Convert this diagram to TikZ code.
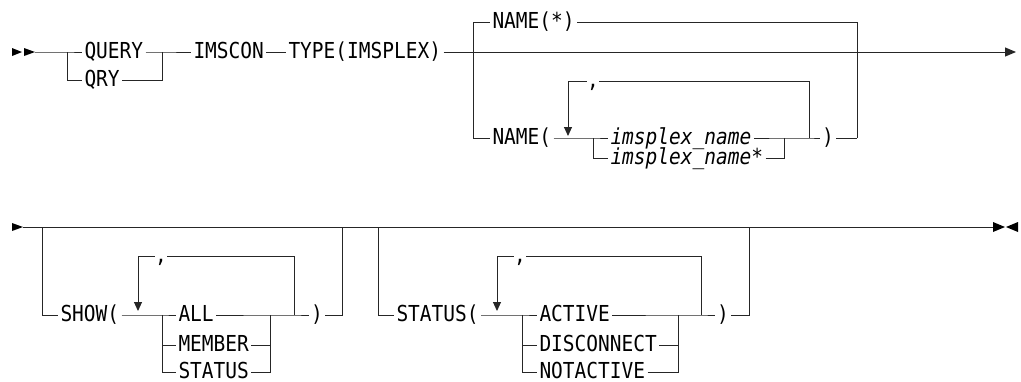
\documentclass[tikz,border=0pt]{standalone}
\usepackage{fontspec}
\setmainfont{DejaVu Sans Mono}[FakeStretch=0.886]
\usetikzlibrary{arrows.meta}

\begin{document}
\begin{tikzpicture}[
    x=1pt, y=-1pt,
    line width=1pt,
    color=black!85, % Set line color
    kw/.style={anchor=west, inner xsep=2pt, inner ysep=0pt, text height=12pt, text depth=0pt,
               text=black, font=\fontsize{22}{24}\selectfont}, % Keyword text
    var/.style={kw, font=\fontsize{22}{24}\selectfont\itshape}, % Variable text
    sep/.style={kw, anchor=center, inner xsep=0pt}, % Repeat separator
    par/.style={kw, anchor=center}, % Closing parenthesis
    rep/.style={-{Triangle[width=8pt,length=9pt]}}, % Repeat arrow
    tip/.style={fill=black} % Start and end markers
]
    \useasboundingbox (0,0) rectangle (1021,381);

    % --- FIRST LINE ---

    % Start marker
    \fill[tip] (12,48) -- (22,52) -- (12,56) -- cycle;
    \fill[tip] (24,48) -- (35,52) -- (24,56) -- cycle;

    % Coordinates
    \coordinate (S1) at (35,52);    % Start of line
    \coordinate (QL) at (67,52);    % Choice left
    \coordinate (QLb) at (67,80);
    \coordinate (QR) at (162,52);   % Choice right
    \coordinate (QRb) at (162,80);
    \coordinate (E1) at (1016,52);  % End of line

    % Keywords
    \node[kw] (query) at (82,52) {QUERY};
    \node[kw] (qry) at (82,80) {QRY};
    \node[kw] (imscon) at (191,52) {IMSCON};
    \node[kw] (type) at (286,52) {TYPE(IMSPLEX)};

    % Edges
    \draw (S1) -- (QL) -- (query.west);
    \draw (QL) -- (QLb) -- (qry.west);
    \draw (query.east) -- (QR) -- (imscon.west);
    \draw (qry.east) -- (QRb) -- (QR);
    \draw (imscon.east) -- (type.west);
    \draw[-{Triangle[width=9pt,length=11pt]}] (type.east) -- (E1);

    % NAME branch
    \coordinate (NL) at (473,52);
    \coordinate (NLt) at (473,22);
    \coordinate (NLb) at (473,138);
    \coordinate (NR) at (857,52);
    \coordinate (NRt) at (857,22);
    \coordinate (NRb) at (857,138);

    \node[kw] (nameall) at (490,22) {NAME(*)};
    \node[kw] (name) at (490,138) {NAME(};

    \draw (NLt) -- (NLb);
    \draw (NLt) -- (nameall.west);
    \draw (nameall.east) -- (NRt) -- (NRb);
    \draw (NLb) -- (name.west);

    % Repeat loop
    \coordinate (RL) at (568,81);
    \coordinate (RLa) at (568,136);
    \coordinate (RR) at (809,81);
    \coordinate (RRb) at (809,138);
    \node[sep] (comma1) at (593,81) {,};

    \draw[rep] (comma1.west) -- (RL) -- (RLa);
    \draw (comma1.east) -- (RR) -- (RRb);

    % Choice of names
    \coordinate (CL) at (593,138);
    \coordinate (CLb) at (593,158);
    \coordinate (CR) at (784,138);
    \coordinate (CRb) at (784,158);

    \node[var] (plex) at (608,138) {imsplex\_name};
    \node[var] (plexs) at (608,158) {imsplex\_name*};
    \node[par] (close1) at (828,138) {)};

    \draw (name.east) -- (CL) -- (plex.west);
    \draw (CL) -- (CLb) -- (plexs.west);
    \draw (plex.east) -- (CR) -- (RRb) -- (close1.west);
    \draw (plexs.east) -- (CRb) -- (CR);
    \draw (close1.east) -- (NRb);


    % --- SECOND LINE ---

    % Start and end markers
    \fill[tip] (12,223) -- (23,227) -- (12,231) -- cycle;
    \fill[tip] (993,222) -- (1005,227) -- (993,232) -- cycle;
    \fill[tip] (1018,222) -- (1006,227) -- (1018,232) -- cycle;

    \coordinate (S2) at (23,227);
    \coordinate (E2) at (993,227);
    \draw (S2) -- (E2);

    % SHOW branch
    \coordinate (BL) at (42,227);
    \coordinate (BLb) at (42,315);
    \coordinate (BR) at (342,227);
    \coordinate (BRb) at (342,315);

    \node[kw] (show) at (58,315) {SHOW(};
    \draw (BL) -- (BLb) -- (show.west);

    \coordinate (PL) at (138,256);
    \coordinate (PLa) at (138,311);
    \coordinate (PR) at (294,256);
    \coordinate (PRb) at (294,315);
    \node[sep] (comma2) at (161,256) {,};
    \draw[rep] (comma2.west) -- (PL) -- (PLa);
    \draw (comma2.east) -- (PR) -- (PRb);

    \coordinate (SL) at (162,315);
    \coordinate (SLb) at (162,372);
    \coordinate (SR) at (270,315);
    \coordinate (SRb) at (270,372);

    \node[kw] (all) at (176,315) {ALL};
    \node[kw] (member) at (176,345) {MEMBER};
    \node[kw] (status) at (176,372) {STATUS};
    \node[par] (close2) at (317,315) {)};

    \draw (show.east) -- (SL) -- (all.west);
    \draw (SL) -- (SLb) -- (status.west);
    \draw (SL |- member) -- (member.west);
    \draw (all.east) -- (SR) -- (PRb) -- (close2.west);
    \draw (member.east) -- (SR |- member);
    \draw (status.east) -- (SRb) -- (SR);
    \draw (close2.east) -- (BRb) -- (BR);

    % STATUS branch
    \coordinate (TL) at (378,227);
    \coordinate (TLb) at (378,315);
    \coordinate (TR) at (749,227);
    \coordinate (TRb) at (749,315);

    \node[kw] (stat) at (394,315) {STATUS(};
    \draw (TL) -- (TLb) -- (stat.west);

    \coordinate (UL) at (497,256);
    \coordinate (ULa) at (497,311);
    \coordinate (UR) at (701,256);
    \coordinate (URb) at (701,315);
    \node[sep] (comma3) at (520,256) {,};
    \draw[rep] (comma3.west) -- (UL) -- (ULa);
    \draw (comma3.east) -- (UR) -- (URb);

    \coordinate (VL) at (522,315);
    \coordinate (VLb) at (522,372);
    \coordinate (VR) at (678,315);
    \coordinate (VRb) at (678,372);

    \node[kw] (active) at (537,315) {ACTIVE};
    \node[kw] (disc) at (537,345) {DISCONNECT};
    \node[kw] (notact) at (537,372) {NOTACTIVE};
    \node[par] (close3) at (723,315) {)};

    \draw (stat.east) -- (VL) -- (active.west);
    \draw (VL) -- (VLb) -- (notact.west);
    \draw (VL |- disc) -- (disc.west);
    \draw (active.east) -- (VR) -- (URb) -- (close3.west);
    \draw (disc.east) -- (VR |- disc);
    \draw (notact.east) -- (VRb) -- (VR);
    \draw (close3.east) -- (TRb) -- (TR);

\end{tikzpicture}
\end{document}
